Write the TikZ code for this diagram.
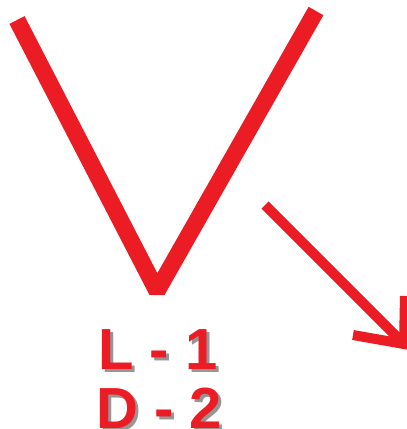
\documentclass[tikz,border=0pt]{standalone}
\usepackage{fontspec}
\setmainfont{Liberation Sans}
\definecolor{vred}{RGB}{236,28,36}
\definecolor{shade}{RGB}{150,150,150}
\begin{document}
\begin{tikzpicture}[x=1pt,y=-1pt,
  vstroke/.style={draw=vred,line width=17pt,line join=bevel},
  arrowstroke/.style={draw=vred,line width=10pt,line join=miter},
  lbl/.style={inner sep=0pt,anchor=base west,font=\fontsize{58}{58}\bfseries\selectfont}]
\useasboundingbox (0,0) rectangle (407,429);
\clip (0,0) rectangle (407,429);
\fill[white] (0,0) rectangle (407,429);
% V
\coordinate (vl) at (17,20);
\coordinate (vb) at (157,291);
\coordinate (vr) at (316,11);
\draw[vstroke] (vl) -- (vb) -- (vr);
% arrow
\coordinate (as) at (265,205);
\coordinate (at) at (404,344);
\coordinate (h1) at (353,335);
\coordinate (h2) at (405,296);
\draw[arrowstroke] (as) -- (at);
\draw[arrowstroke] (h1) -- (at) -- (h2);
% labels
\node[lbl,text=shade] (l1s) at (101,372) {L - 1};
\node[lbl,text=vred] (l1) at (98,369) {L - 1};
\node[lbl,text=shade] (d2s) at (99,431) {D - 2};
\node[lbl,text=vred] (d2) at (96,428) {D - 2};
\end{tikzpicture}
\end{document}
